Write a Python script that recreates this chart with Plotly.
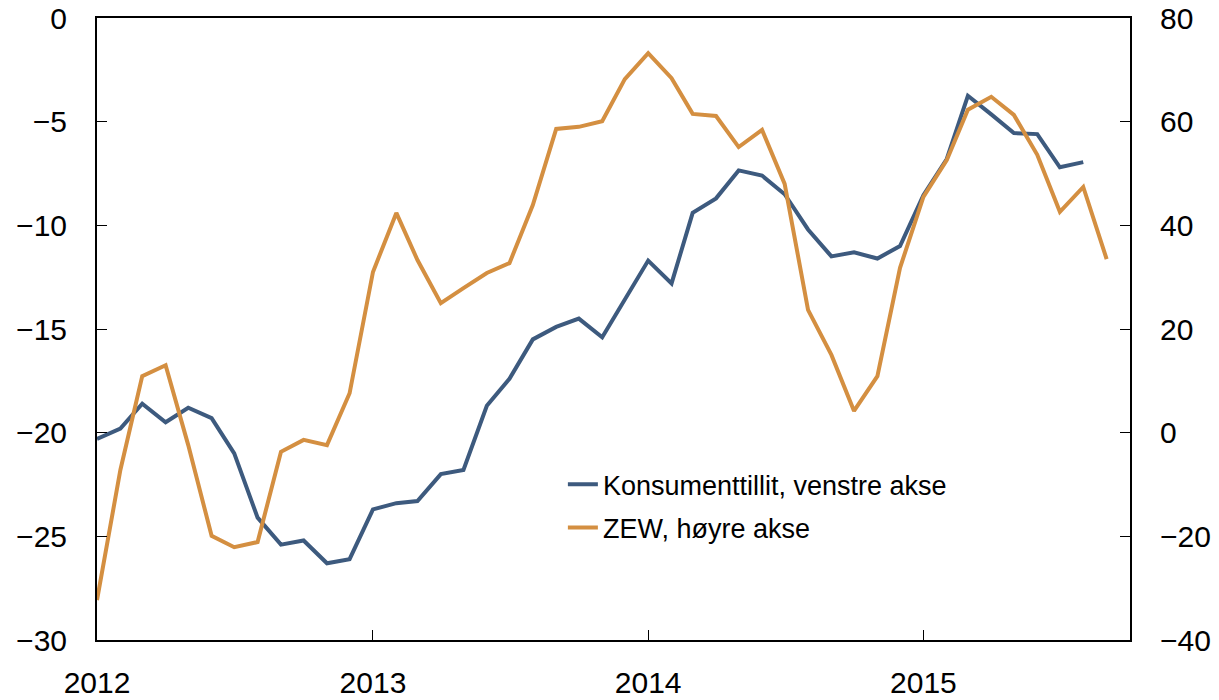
import plotly.graph_objects as go
import pandas as pd

months_konsument = pd.date_range("2012-01-01", periods=44, freq="MS")
months_zew = pd.date_range("2012-01-01", periods=45, freq="MS")

konsumenttillit = [
    -20.3, -19.8, -18.6, -19.5, -18.8, -19.3, -21.0, -24.1, -25.4, -25.2, -26.3, -26.1,
    -23.7, -23.4, -23.3, -22.0, -21.8, -18.7, -17.4, -15.5, -14.9, -14.5, -15.4, -13.6,
    -11.7, -12.8, -9.4, -8.7, -7.35, -7.6, -8.5, -10.2, -11.5, -11.3, -11.6, -11.0,
    -8.55, -6.8, -3.75, -4.65, -5.55, -5.6, -7.2, -6.95,
]
zew = [
    -32.3, -7.2, 10.9, 13.0, -2.4, -19.9, -22.1, -21.1, -3.7, -1.4, -2.4, 7.6,
    31.0, 42.4, 33.3, 25.0, 27.9, 30.8, 32.7, 43.9, 58.6, 59.0, 60.1, 68.2,
    73.2, 68.4, 61.5, 61.1, 55.1, 58.4, 48.0, 23.7, 15.0, 4.2, 10.9, 31.8,
    45.5, 52.6, 62.3, 64.8, 61.3, 53.6, 42.6, 47.4, 33.5,
]
year_ticks = ["2012-01-01", "2013-01-01", "2014-01-01", "2015-01-01"]
year_labels = ["2012", "2013", "2014", "2015"]
left_ticks = [0, -5, -10, -15, -20, -25, -30]
right_ticks = [80, 60, 40, 20, 0, -20, -40]

BLUE = "#3D5A7E"
ORANGE = "#D48F41"
FONT = "Liberation Sans, Arial, sans-serif"

fig = go.Figure()
fig.add_trace(go.Scatter(
    x=months_konsument, y=konsumenttillit, mode="lines",
    name="Konsumenttillit, venstre akse",
    line=dict(color=BLUE, width=4), yaxis="y", legendgroup="a",
))
fig.add_trace(go.Scatter(
    x=months_zew, y=zew, mode="lines",
    name="ZEW, høyre akse",
    line=dict(color=ORANGE, width=4), yaxis="y2", legendgroup="b",
))

fig.update_layout(
    width=1219, height=700,
    margin=dict(l=97, r=89, t=18, b=60, autoexpand=False),
    paper_bgcolor="white", plot_bgcolor="white",
    font=dict(family=FONT, size=30, color="black"),
    showlegend=True,
    legend=dict(
        x=0.451, y=0.215, xanchor="left", yanchor="middle",
        font=dict(size=27), bgcolor="rgba(0,0,0,0)",
        tracegroupgap=5,
    ),
    xaxis=dict(
        type="date", range=["2012-01-01", "2015-10-02"],
        tickmode="array", tickvals=year_ticks, ticktext=year_labels,
        ticks="inside", ticklen=10, tickcolor="black", tickwidth=1,
        showline=True, linecolor="black", linewidth=2, mirror=True,
        showgrid=False, zeroline=False, ticklabelstandoff=15, automargin=False,
        ticklabeloverflow="allow",
    ),
    yaxis=dict(
        range=[-30, 0], tickmode="array", tickvals=left_ticks,
        ticks="inside", ticklen=10, tickcolor="black", tickwidth=1,
        showline=True, linecolor="black", linewidth=2,
        showgrid=False, zeroline=False, ticklabelstandoff=22, automargin=False,
        ticklabeloverflow="allow",
    ),
    yaxis2=dict(
        range=[-40, 80], tickmode="array", tickvals=right_ticks,
        overlaying="y", side="right",
        ticks="inside", ticklen=10, tickcolor="black", tickwidth=1,
        showline=True, linecolor="black", linewidth=2,
        showgrid=False, zeroline=False, ticklabelstandoff=22, automargin=False,
        ticklabeloverflow="allow",
    ),
)

fig.write_html(
    "out.html",
    config={"displayModeBar": False},
    post_script="document.body.style.margin='0';document.body.style.overflow='hidden';",
)
